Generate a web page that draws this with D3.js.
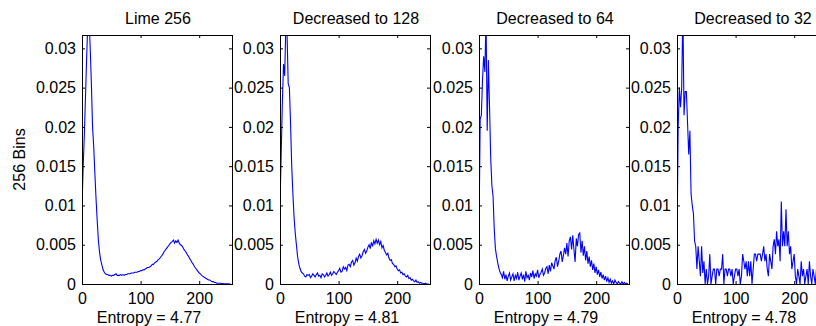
<!DOCTYPE html>
<html>
<head>
<meta charset="utf-8">
<script src="https://cdn.jsdelivr.net/npm/d3@7"></script>
<style>
body { margin: 0; background: #fff; }
svg { display: block; }
</style>
</head>
<body>
<svg id="chart" width="816" height="326"></svg>
<script>
// histogram bins that are drawn (every second grey level)
var bins = d3.range(0, 256, 2);

// normalised histogram values, in units of 1e-4
var lime256 = [98,150,190,240,290,335,340,300,255,200,
  175,140,108,80,55,40,30,24,18,15,
  13,12,12,11,11,10,11,11,12,13,
  11,11,11,12,11,12,11,12,12,13,
  13,13,14,14,14,15,15,15,16,16,
  17,17,18,18,19,20,21,21,22,23,
  25,25,27,28,29,31,32,34,36,38,
  41,43,45,47,49,51,53,54,56,52,
  55,53,56,52,50,49,47,44,42,40,
  37,35,32,30,27,25,22,20,18,16,
  14,13,11,10,9,8,7,6,5,5,
  4,3,3,2,2,1,1,1,1,0.5,
  0.5,0.3,0.2,0.1,0.1,0.1,0,0];

var dec128 = [100,165,230,280,265,330,320,255,250,205,
  150,115,85,65,50,35,26,20,16,14,
  13,10,9,12,11,12,8,10,13,11,
  9,12,14,10,11,8,13,12,9,11,
  14,10,12,15,11,13,16,14,12,15,
  17,20,15,16,22,19,21,17,24,25,
  22,28,30,24,27,33,29,35,38,33,
  36,41,44,39,42,47,50,45,53,48,
  55,51,57,52,56,50,54,46,49,43,
  40,37,39,33,30,31,26,25,22,23,
  19,17,18,14,15,12,13,10,9,11,
  7,8,5,6,4,3,5,2,3,1,
  2,1,1,0,1,0,0,0];

var dec64 = [65,210,215,260,290,270,340,195,285,225,
  160,125,112,70,45,35,27,20,15,12,
  8,16,6,12,4,10,14,5,9,13,
  4,11,7,15,5,10,14,6,12,3,
  16,8,11,5,14,9,17,7,13,10,
  18,8,12,15,19,11,14,20,22,13,
  24,16,27,23,19,30,34,22,29,38,
  42,28,36,46,38,52,35,55,60,44,
  62,44,28,58,48,63,65,40,55,36,
  48,30,42,26,35,22,30,18,26,14,
  22,12,18,9,15,7,12,5,10,3,
  8,2,6,1,4,0,5,2,0,3,
  1,0,3,0,2,0,1,0];

var dec32 = [50,200,250,225,250,350,215,245,245,205,
  165,195,115,100,90,55,48,19,48,29,
  10,48,14,29,0,19,0,10,38,0,
  10,19,19,0,19,19,10,19,19,38,
  0,19,19,10,19,19,10,19,0,10,
  19,19,10,19,0,10,38,29,19,29,
  10,29,10,29,0,19,38,38,29,38,
  38,38,29,38,48,29,38,19,10,38,
  29,19,48,57,38,67,48,57,29,105,
  48,67,48,95,48,67,38,48,19,29,
  38,10,0,19,10,0,29,10,19,0,
  10,19,0,29,10,0,19,10,0,19,
  0,10,0,10,0,0,10,0];

var titles = ["Lime 256", "Decreased to 128", "Decreased to 64", "Decreased to 32"];
var entropies = ["Entropy = 4.77", "Entropy = 4.81", "Entropy = 4.79", "Entropy = 4.78"];
var yTicks = [0, 0.005, 0.01, 0.015, 0.02, 0.025, 0.03];
var xTicks = [0, 100, 200];
var yLabel = "256 Bins";

var series = [lime256, dec128, dec64, dec32];

var width = 816, height = 326;
var left0 = 82, gap = 198.4, top0 = 35;
var w = 150, h = 249;
var font = "'Liberation Sans', Arial, Helvetica, sans-serif";

var svg = d3.select("#chart");
svg.append("rect").attr("width", width).attr("height", height).attr("fill", "#fff");

var x = d3.scaleLinear().domain([0, 256]).range([0, w]);
var y = d3.scaleLinear().domain([0, 0.0317]).range([h, 0]);

var line = d3.line()
    .x(function(d, i) { return x(bins[i]); })
    .y(function(d) { return y(d * 1e-4); });

series.forEach(function(vals, i) {
    var g = svg.append("g")
        .attr("transform", "translate(" + Math.round(left0 + i * gap) + "," + top0 + ")");

    g.append("clipPath").attr("id", "clip" + i)
        .append("rect").attr("width", w).attr("height", h);

    g.append("path")
        .datum(vals)
        .attr("clip-path", "url(#clip" + i + ")")
        .attr("fill", "none")
        .attr("stroke", "#0000ff")
        .attr("stroke-width", 1.1)
        .attr("d", line);

    g.append("g")
        .call(d3.axisLeft(y).tickValues(yTicks).tickFormat(function(d) { return String(d); })
            .tickSize(-3).tickPadding(6));
    g.append("g")
        .attr("transform", "translate(0," + h + ")")
        .call(d3.axisBottom(x).tickValues(xTicks).tickSize(-3).tickPadding(8.5));
    g.append("g")
        .attr("transform", "translate(" + w + ",0)")
        .call(d3.axisRight(y).tickValues(yTicks).tickFormat("").tickSize(-3));
    g.append("g")
        .call(d3.axisTop(x).tickValues(xTicks).tickFormat("").tickSize(-3));

    g.selectAll(".domain").remove();
    g.selectAll(".tick text").attr("font-size", 16).attr("font-family", font).attr("fill", "#000");
    g.selectAll(".tick line").attr("stroke", "#000");

    g.append("rect")
        .attr("x", 0.5).attr("y", 0.5)
        .attr("width", w).attr("height", h)
        .attr("fill", "none").attr("stroke", "#000").attr("stroke-width", 1);

    g.append("text")
        .attr("x", w / 2 + 1).attr("y", 23.5 - top0)
        .attr("text-anchor", "middle")
        .attr("font-family", font).attr("font-size", 16)
        .text(titles[i]);

    g.append("text")
        .attr("x", w / 2 - 8).attr("y", 322.5 - top0)
        .attr("text-anchor", "middle")
        .attr("font-family", font).attr("font-size", 16)
        .text(entropies[i]);
});

svg.append("text")
    .attr("transform", "translate(25,159.5) rotate(-90)")
    .attr("text-anchor", "middle")
    .attr("font-family", font).attr("font-size", 16)
    .text(yLabel);
</script>
</body>
</html>
